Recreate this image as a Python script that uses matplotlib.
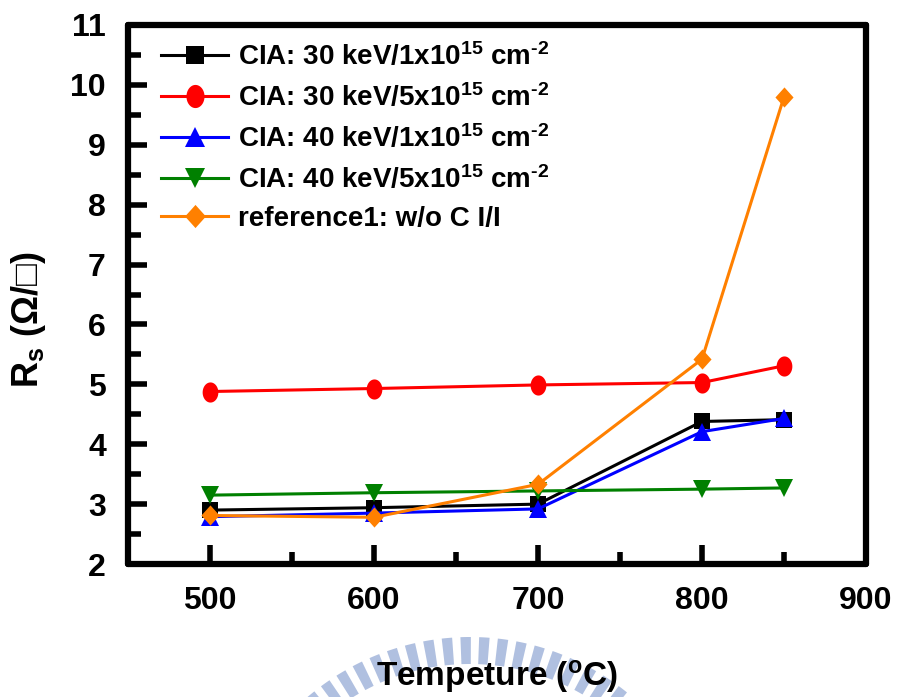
import numpy as np
import matplotlib
matplotlib.use("Agg")
import matplotlib.pyplot as plt
from matplotlib.path import Path
from matplotlib.patches import Wedge

plt.rcParams['font.family'] = ['Liberation Sans', 'DejaVu Sans']
plt.rcParams['font.weight'] = 'bold'
plt.rcParams['mathtext.fontset'] = 'custom'
plt.rcParams['mathtext.rm'] = 'Liberation Sans:bold'
plt.rcParams['mathtext.it'] = 'Liberation Sans:bold'
plt.rcParams['mathtext.bf'] = 'Liberation Sans:bold'
plt.rcParams['mathtext.default'] = 'bf'

# Annealing temperature (deg C)
temperature = [500, 600, 700, 800, 850]

# Sheet resistance Rs (ohm/sq)
rs_30kev_1e15 = [2.90, 2.94, 3.00, 4.38, 4.41]
rs_30kev_5e15 = [4.88, 4.93, 4.99, 5.03, 5.31]
rs_40kev_1e15 = [2.79, 2.85, 2.92, 4.21, 4.43]
rs_40kev_5e15 = [3.15, 3.19, 3.22, 3.25, 3.27]
rs_reference = [2.81, 2.78, 3.33, 5.42, 9.80]

labels = [
    r'CIA: 30 keV/1x10$^{15}$ cm$^{\text{-2}}$',
    r'CIA: 30 keV/5x10$^{15}$ cm$^{\text{-2}}$',
    r'CIA: 40 keV/1x10$^{15}$ cm$^{\text{-2}}$',
    r'CIA: 40 keV/5x10$^{15}$ cm$^{\text{-2}}$',
    'reference1: w/o C I/I',
]

x_ticks = [500, 600, 700, 800, 900]
y_ticks = [2, 3, 4, 5, 6, 7, 8, 9, 10, 11]

# Slightly tall ellipse and diamond markers
t = np.linspace(0, 2 * np.pi, 60)
ellipse = Path(np.column_stack([0.78 * np.cos(t), np.sin(t)]))
diamond = Path([(0, 1), (0.9, 0), (0, -1), (-0.9, 0), (0, 1)], closed=True)

W, H = 898, 697
fig = plt.figure(figsize=(W / 100, H / 100), dpi=100)

# Background logo arc below the plot (pixel coordinates, y up)
bg = fig.add_axes([0, 0, 1, 1], zorder=0)
bg.set_xlim(0, W)
bg.set_ylim(0, H)
bg.axis('off')
cx, cy = 470, -190
for ang in np.arange(-42, 43, 4.3):
    th = 90 + ang
    bg.add_patch(Wedge((cx, cy), 250, th - 1.2, th + 1.2, width=27,
                       facecolor='#b0c0e0', edgecolor='none'))

ax = fig.add_axes([128 / W, (H - 564) / H, 738 / W, 539 / H], zorder=1)
ax.set_facecolor('none')

series = [
    (rs_30kev_1e15, 'black', 's', 11),
    (rs_30kev_5e15, '#ff0000', ellipse, 14.5),
    (rs_40kev_1e15, '#0000ff', '^', 12.5),
    (rs_40kev_5e15, '#008000', 'v', 12.5),
    (rs_reference, '#ff8000', diamond, 14.5),
]
for (vals, col, mk, ms), lab in zip(series, labels):
    ax.plot(temperature, vals, color=col, marker=mk, markersize=ms,
            linewidth=2.2, label=lab, markeredgewidth=0)

ax.set_xlim(450, 900)
ax.set_ylim(2, 11)
ax.set_xticks(x_ticks)
ax.set_yticks(y_ticks)
ax.set_xticks(np.arange(550, 900, 100), minor=True)
ax.set_yticks(np.arange(2.5, 11, 1), minor=True)

for s in ax.spines.values():
    s.set_linewidth(4.5)
    s.set_capstyle('round')

ax.tick_params(which='major', direction='in', length=14, width=4,
               labelsize=23, pad=16)
ax.tick_params(which='minor', direction='in', length=9, width=4)
ax.tick_params(which='both', top=True, right=True)
for tk in ax.xaxis.get_major_ticks() + ax.xaxis.get_minor_ticks():
    tk.tick2line.set_markersize(2)
for tk in ax.yaxis.get_major_ticks() + ax.yaxis.get_minor_ticks():
    tk.tick2line.set_markersize(2)
for lab in ax.get_xticklabels() + ax.get_yticklabels():
    lab.set_fontweight('bold')

ax.set_xlabel('Tempeture ($^\\mathrm{o}$C)', fontsize=24, fontweight='bold')
ax.xaxis.set_label_coords(0.5, -0.175)
ax.set_ylabel(r'R$_\mathrm{s}$ (Ω/□)', fontsize=26, fontweight='bold')
ax.yaxis.label.set_va('center')
ax.yaxis.set_label_coords(-0.1355, 0.453)

leg = ax.legend(loc='upper left', bbox_to_anchor=(0.045, 0.969),
                frameon=False, fontsize=20, handlelength=2.4,
                handletextpad=0.35, labelspacing=0.44, borderaxespad=0,
                borderpad=0, markerscale=1.15)
for txt in leg.get_texts():
    txt.set_fontweight('bold')

fig.savefig('out.png', dpi=100)
